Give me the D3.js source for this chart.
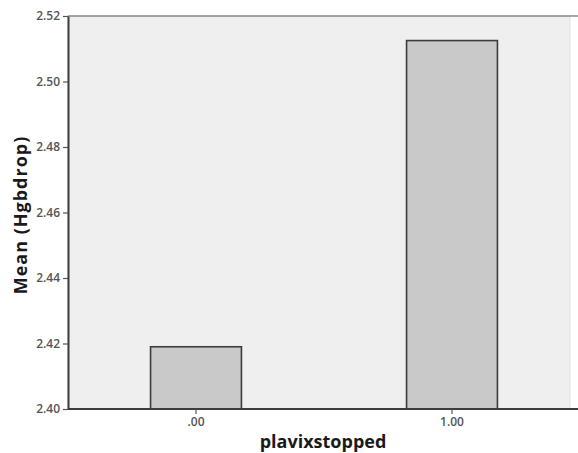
<!DOCTYPE html>
<html><head><meta charset="utf-8">
<script src="https://cdn.jsdelivr.net/npm/d3@7"></script>
<style>body{margin:0;background:#fff;} svg{display:block;}</style>
</head><body>
<script>
const categories = [".00", "1.00"];
const values = [2.419, 2.5125];
const yTicks = [2.40, 2.42, 2.44, 2.46, 2.48, 2.50, 2.52];
const xTitle = "plavixstopped";
const yTitle = "Mean (Hgbdrop)";

const W = 578, H = 453;
const m = {left: 68, top: 16, right: -2, bottom: 44};
const svg = d3.select("body").append("svg").attr("width", W).attr("height", H);

const x = d3.scaleBand().domain(categories).range([m.left, W - m.right])
  .paddingInner(0.645).paddingOuter(0.3225);
const y = d3.scaleLinear().domain([2.40, 2.52]).range([H - m.bottom, m.top]);

// plot background
svg.append("rect").attr("x", m.left).attr("y", m.top)
  .attr("width", 570 - m.left).attr("height", (H - m.bottom) - m.top)
  .attr("fill", "#efefef").attr("stroke", "#e2e2e2");
svg.append("line").attr("x1", m.left).attr("x2", W).attr("y1", m.top).attr("y2", m.top)
  .attr("stroke", "#8a8a8a").attr("stroke-width", 1.5);

// bars
svg.selectAll("rect.bar").data(values).enter().append("rect").attr("class", "bar")
  .attr("x", (d, i) => x(categories[i]))
  .attr("width", x.bandwidth())
  .attr("y", d => y(d))
  .attr("height", d => y(2.40) - y(d))
  .attr("fill", "#c9c9c9").attr("stroke", "#3c3c3c").attr("stroke-width", 1.6);

// axes
const yAxis = d3.axisLeft(y).tickValues(yTicks).tickFormat(d3.format(".2f")).tickSize(5).tickSizeOuter(0);
const gy = svg.append("g").attr("transform", `translate(${m.left},0)`).call(yAxis);
const xAxis = d3.axisBottom(x).tickSize(5).tickSizeOuter(0);
const gx = svg.append("g").attr("transform", `translate(0,${H - m.bottom})`).call(xAxis);
[gy, gx].forEach(g => {
  g.select(".domain").attr("stroke", "#3c3c3c").attr("stroke-width", 2);
  g.selectAll(".tick line").attr("stroke", "#555").attr("stroke-width", 1.2);
  g.selectAll(".tick text").attr("fill", "#555").attr("font-family", "'Open Sans', sans-serif")
    .attr("font-size", 12).attr("font-weight", 600);
});
gx.select(".domain").attr("d", `M${m.left},0H${W}`);

svg.append("text").attr("x", 323).attr("y", 448).attr("text-anchor", "middle")
  .attr("font-family", "'Open Sans', sans-serif").attr("font-weight", "bold").attr("font-size", 18)
  .attr("fill", "#1a1a1a").text(xTitle);
svg.append("text").attr("transform", "translate(27,215) rotate(-90)").attr("text-anchor", "middle")
  .attr("font-family", "'Open Sans', sans-serif").attr("font-weight", "bold").attr("font-size", 18)
  .attr("letter-spacing", 1)
  .attr("fill", "#1a1a1a").text(yTitle);
</script>
</body></html>
